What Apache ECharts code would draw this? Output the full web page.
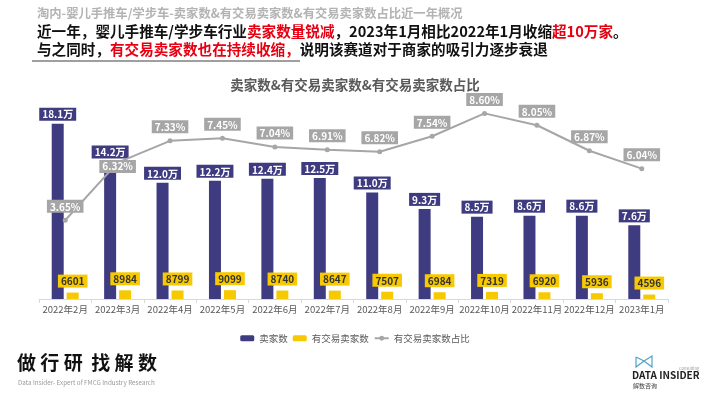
<!DOCTYPE html>
<html>
<head>
<meta charset="utf-8">
<script src="https://cdn.jsdelivr.net/npm/echarts@6/dist/echarts.min.js"></script>
<style>
html,body{margin:0;padding:0;background:#fff;}
#chart{width:710px;height:399px;}
</style>
</head>
<body>
<div id="chart"></div>
<script>
// 数据
var months = ['2022年2月','2022年3月','2022年4月','2022年5月','2022年6月','2022年7月','2022年8月','2022年9月','2022年10月','2022年11月','2022年12月','2023年1月'];
var sellers = [181000,142000,120000,122000,124000,125000,110000,93000,85000,86000,86000,76000];
var tradedSellers = [6601,8984,8799,9099,8740,8647,7507,6984,7319,6920,5936,4596];
var tradedRatio = [3.65,6.32,7.33,7.45,7.04,6.91,6.82,7.54,8.60,8.05,6.87,6.04];

var FONT = '"Noto Sans CJK SC", "Noto Sans", sans-serif';
var NAVY = '#3e3b80';
var YELLOW = '#f7c900';
var GREY = '#a6a6a6';

var chart = echarts.init(document.getElementById('chart'));

// 占比折线的数据，3月那个标签压在点上
var ratioData = tradedRatio.map(function(v, i){
    if(i === 1){
        return {value:v, label:{position:'inside', offset:[0,4]}};
    }
    return v;
});

chart.setOption({
    textStyle:{fontFamily:FONT},
    animation:false,
    graphic:[
        {
            type:'text', left:37, top:7,
            style:{text:'淘内-婴儿手推车/学步车-卖家数&有交易卖家数&有交易卖家数占比近一年概况', fill:'#b3b3b3', font:'bold 12.3px ' + FONT}
        },
        {
            type:'text', left:37, top:24,
            style:{
                text:'{b|近一年，婴儿手推车/学步车行业}{r|卖家数量锐减}{b|，2023年1月相比2022年1月收缩}{r|超10万家}{b|。}',
                rich:{
                    b:{fill:'#111', font:'bold 14.6px ' + FONT},
                    r:{fill:'#e60012', font:'bold 14.6px ' + FONT}
                }
            }
        },
        {
            type:'text', left:37, top:42,
            style:{
                text:'{b|与之同时，}{r|有交易卖家数也在持续收缩，}{b|说明该赛道对于商家的吸引力逐步衰退}',
                rich:{
                    b:{fill:'#111', font:'bold 14.6px ' + FONT},
                    r:{fill:'#e60012', font:'bold 14.6px ' + FONT}
                }
            }
        },
        {
            type:'line', shape:{x1:32, y1:61, x2:300, y2:61},
            style:{stroke:'#7f7f7f', lineWidth:1.5}
        },
        {
            type:'text', left:17, top:353,
            style:{text:'做 行 研  找 解 数', fill:'#111', font:'bold 19px ' + FONT}
        },
        {
            type:'text', left:18, top:379,
            style:{text:'Data Insider- Expert of FMCG Industry Research', fill:'#9a9a9a', font:'6.3px ' + FONT}
        },
        {
            type:'polyline',
            shape:{points:[[636,357],[636,367],[644,361],[652,356],[652,367],[644,361],[636,357]]},
            style:{stroke:'#4fa3c7', lineWidth:1.2, fill:null}
        },
        {
            type:'text', left:679, top:366,
            style:{text:'Consulting', fill:'#9a9a9a', font:'4px ' + FONT}
        },
        {
            type:'text', left:632, top:370,
            style:{text:'DATA INSIDER', fill:'#222', font:'bold 10px ' + FONT}
        },
        {
            type:'text', left:633, top:383,
            style:{text:'解数咨询', fill:'#444', font:'6px ' + FONT}
        }
    ],
    title:{
        text:'卖家数&有交易卖家数&有交易卖家数占比',
        left:'center', top:73,
        textStyle:{fontSize:13.5, fontWeight:'bold', color:'#595959', fontFamily:FONT}
    },
    legend:{
        bottom:51, left:'center',
        itemWidth:14, itemHeight:6, itemGap:5,
        textStyle:{fontSize:9.5, color:'#595959', fontFamily:FONT},
        data:['卖家数','有交易卖家数','有交易卖家数占比']
    },
    grid:{left:39, right:42, top:59, bottom:100},
    xAxis:{
        type:'category',
        data:months,
        axisLine:{lineStyle:{color:'#d9d9d9'}},
        axisTick:{show:true, length:4, lineStyle:{color:'#d9d9d9'}},
        axisLabel:{fontSize:9.5, color:'#595959', margin:6, interval:0}
    },
    yAxis:[
        {type:'value', min:0, max:247700, show:false, splitLine:{show:false}},
        {type:'value', min:0, max:11.12, show:false, splitLine:{show:false}}
    ],
    series:[
        {
            name:'卖家数', type:'bar', data:sellers,
            barWidth:12, barGap:'25%',
            itemStyle:{color:NAVY},
            label:{
                show:true, position:'top', distance:3,
                backgroundColor:NAVY, color:'#fff', fontWeight:'bold', fontSize:10,
                padding:[2,3,1,3],
                formatter:function(p){ return (p.value/10000).toFixed(1) + '万'; }
            }
        },
        {
            name:'有交易卖家数', type:'bar', data:tradedSellers,
            barWidth:12,
            itemStyle:{color:YELLOW},
            label:{
                show:true, position:'top', distance:5,
                backgroundColor:YELLOW, color:'#333', fontWeight:'bold', fontSize:10,
                padding:[2,3,1,3]
            }
        },
        {
            name:'有交易卖家数占比', type:'line', yAxisIndex:1, data:ratioData,
            z:5,
            symbol:'circle', symbolSize:5,
            itemStyle:{color:GREY},
            lineStyle:{color:GREY, width:2},
            label:{
                show:true, position:'top', distance:5,
                backgroundColor:GREY, color:'#fff', fontWeight:'bold', fontSize:10,
                padding:[2,3,1,3],
                formatter:function(p){ return p.value.toFixed(2) + '%'; }
            }
        }
    ]
});
</script>
</body>
</html>
